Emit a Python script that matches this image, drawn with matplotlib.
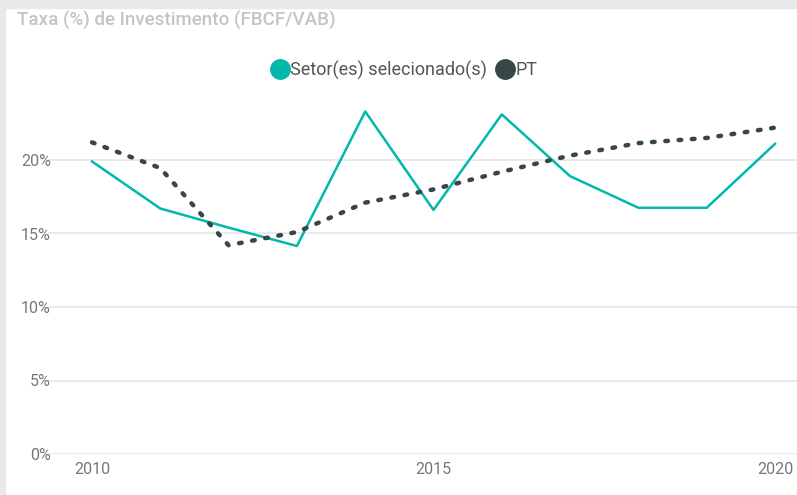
import matplotlib.pyplot as plt
from matplotlib.patches import Rectangle
from matplotlib.ticker import FuncFormatter

# data
years = [2010, 2011, 2012, 2013, 2014, 2015, 2016, 2017, 2018, 2019, 2020]
setor = [19.9, 16.7, 15.4, 14.15, 23.3, 16.6, 23.1, 18.9, 16.75, 16.75, 21.1]
pt = [21.2, 19.45, 14.2, 15.1, 17.1, 18.0, 19.2, 20.3, 21.15, 21.5, 22.2]
y_ticks = [0, 5, 10, 15, 20]
x_ticks = [2010, 2015, 2020]
labels = ['Setor(es) selecionado(s)', 'PT']

TEAL = '#01B8AA'
DARK = '#374649'
FONT = 'Roboto'

fig = plt.figure(figsize=(7.97, 4.95), dpi=100)
fig.patch.set_facecolor('white')

# light gray frame on top and left edges
fig.patches.append(Rectangle((0, 1 - 8 / 495), 1, 8 / 495, transform=fig.transFigure,
                             color='#e9e9e9', zorder=0))
fig.patches.append(Rectangle((0, 0), 5 / 797, 1, transform=fig.transFigure,
                             color='#e9e9e9', zorder=0))

ax = fig.add_axes([48 / 797, 1 - 454 / 495, 749 / 797, (454 - 86.5) / 495])
ax.plot(years, setor, color=TEAL, linewidth=1.8, zorder=3)
ax.plot(years, pt, color=DARK, linewidth=3.2, linestyle=(0, (0.6, 2.4)),
        dash_capstyle='round', zorder=4)

ax.set_xlim(2010 - 44 / 68.3, 2020 + 22 / 68.3)
ax.set_ylim(0, 25)
ax.set_yticks(y_ticks)
ax.set_xticks(x_ticks)
ax.yaxis.set_major_formatter(FuncFormatter(lambda v, p: f'{v:.0f}%'))
ax.grid(axis='y', color='#e6e6e6', linewidth=1.2)
ax.grid(axis='x', visible=False)
for s in ax.spines.values():
    s.set_visible(False)
ax.tick_params(length=0, labelsize=11.5, labelcolor='#777777', pad=6)
ax.tick_params(axis='y', pad=-2)
for lab in ax.get_xticklabels() + ax.get_yticklabels():
    lab.set_fontfamily(FONT)

fig.text(17 / 797, 1 - 20 / 495, 'Taxa (%) de Investimento (FBCF/VAB)', fontsize=13.5,
         color='#c4c4c4', fontfamily=FONT, va='center', ha='left', fontweight='medium')

# circular markers for the legend
handles = [plt.Line2D([], [], marker='o', linestyle='', markersize=14, color=c)
           for c in [TEAL, DARK]]
ax.legend(handles, labels, loc='center',
          bbox_to_anchor=(405 / 797, 1 - 70 / 495), bbox_transform=fig.transFigure,
          ncol=2, frameon=False, prop={'family': FONT, 'size': 13},
          handlelength=0.8, handletextpad=0.15, columnspacing=0.6,
          labelcolor='#555555')

fig.savefig('out.png', dpi=100)
